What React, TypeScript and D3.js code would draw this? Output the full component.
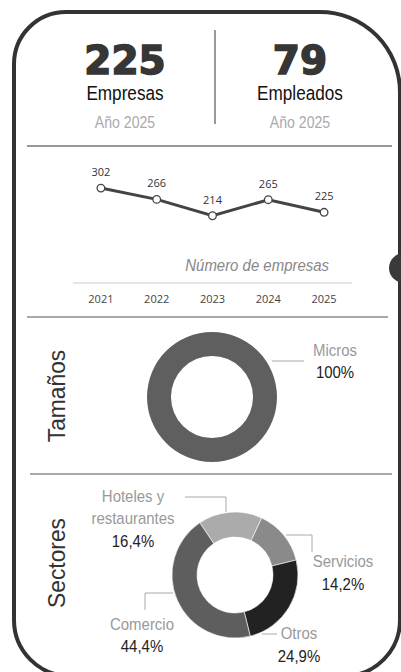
import React from "react";
import * as d3 from "d3";

const years = ["2021", "2022", "2023", "2024", "2025"];
const empresasSerie = [302, 266, 214, 265, 225];

const kpiValues = ["225", "79"];
const kpiLabels = ["Empresas", "Empleados"];
const kpiSub = ["Año 2025", "Año 2025"];

const tamanosCats = ["Micros"];
const tamanosVals = [100];

const sectorCats = ["Hoteles y restaurantes", "Servicios", "Otros", "Comercio"];
const sectorVals = [16.4, 14.2, 24.9, 44.4];
const sectorLabels = ["16,4%", "14,2%", "24,9%", "44,4%"];
const sectorColors = ["#ababab", "#8a8a8a", "#222222", "#5e5e5e"];

const SANS = "Liberation Sans";

function NText(props: {
  x: number;
  y: number;
  size: number;
  fill: string;
  children: React.ReactNode;
  italic?: boolean;
  anchor?: string;
  sx?: number;
  rotate?: number;
}) {
  const { x, y, size, fill, children, italic, anchor = "middle", sx = 0.88, rotate = 0 } = props;
  return (
    <text
      transform={`translate(${x},${y}) rotate(${rotate}) scale(${sx},1)`}
      textAnchor={anchor}
      fontFamily={SANS}
      fontStyle={italic ? "italic" : "normal"}
      fontSize={size}
      fill={fill}
    >
      {children}
    </text>
  );
}

export default function App() {
  const W = 401, H = 672;

  const L = 14, T = 12, R = 400, B = 676;
  const rtl = 52, rtr = 80, rbr = 56, rbl = 56;
  const frame = d3.path();
  frame.moveTo(L + rtl, T);
  frame.lineTo(R - rtr, T);
  frame.arcTo(R, T, R, T + rtr, rtr);
  frame.lineTo(R, B - rbr);
  frame.arcTo(R, B, R - rbr, B, rbr);
  frame.lineTo(L + rbl, B);
  frame.arcTo(L, B, L, B - rbl, rbl);
  frame.lineTo(L, T + rtl);
  frame.arcTo(L, T, L + rtl, T, rtl);
  frame.closePath();

  const x = d3.scaleBand<string>().domain(years).range([73, 352]);
  const y = d3.scaleLinear().domain([0, 350]).range([283, 173]);
  const cx = (yr: string) => (x(yr) as number) + x.bandwidth() / 2;
  const line = d3
    .line<number>()
    .x((_, i) => cx(years[i]))
    .y((v) => y(v));

  const tCx = 212, tCy = 397;
  const tPie = d3.pie<number>().sort(null)(tamanosVals);
  const tArc = d3.arc<d3.PieArcDatum<number>>().innerRadius(41).outerRadius(65);

  const sCx = 235, sCy = 575;
  const startA = (-34 * Math.PI) / 180;
  const sPie = d3
    .pie<number>()
    .sort(null)
    .startAngle(startA)
    .endAngle(startA + 2 * Math.PI)(sectorVals);
  const sArc = d3.arc<d3.PieArcDatum<number>>().innerRadius(38).outerRadius(63);

  const kpiX = [125, 300];

  return (
    <svg
      width={W}
      height={H}
      style={{ position: "absolute", left: 0, top: 0, background: "#fff" }}
    >
      <rect x={0} y={0} width={W} height={H} fill="#fff" />
      <path d={frame.toString()} fill="none" stroke="#333" strokeWidth={4} />
      <circle cx={404} cy={268} r={15} fill="#3a3a3a" />

      {kpiValues.map((v, i) => (
        <g key={i}>
          <text
            x={kpiX[i]}
            y={74}
            textAnchor="middle"
            fontFamily="DejaVu Sans"
            fontWeight={700}
            fontSize={39}
            fill="#363636"
            stroke="#363636"
            strokeWidth={1.6}
          >
            {v}
          </text>
          <NText x={kpiX[i]} y={100} size={19.5} fill="#111">
            {kpiLabels[i]}
          </NText>
          <NText x={kpiX[i]} y={128} size={16} fill="#aaa">
            {kpiSub[i]}
          </NText>
        </g>
      ))}
      <line x1={215} x2={215} y1={30} y2={124} stroke="#999" strokeWidth={2} />
      <line x1={27} x2={392} y1={146} y2={146} stroke="#333" strokeWidth={1.2} />

      <line x1={73} x2={352} y1={283} y2={283} stroke="#dcdcdc" strokeWidth={1.5} />
      <path d={line(empresasSerie) || ""} fill="none" stroke="#444" strokeWidth={3} />
      {empresasSerie.map((v, i) => (
        <g key={i}>
          <circle cx={cx(years[i])} cy={y(v)} r={3.8} fill="#fff" stroke="#444" strokeWidth={1.3} />
          <text
            x={cx(years[i])}
            y={y(v) - 12}
            textAnchor="middle"
            fontFamily="Open Sans"
            fontSize={11}
            fill="#333"
          >
            {v}
          </text>
        </g>
      ))}
      {years.map((yr) => (
        <text
          key={yr}
          x={cx(yr)}
          y={303}
          textAnchor="middle"
          fontFamily="Open Sans"
          fontSize={11}
          fill="#444"
        >
          {yr}
        </text>
      ))}
      <NText x={329} y={271} size={17} fill="#888" italic anchor="end">
        Número de empresas
      </NText>
      <line x1={27} x2={388} y1={317} y2={317} stroke="#555" strokeWidth={1.2} />

      <NText x={65} y={396} size={24} fill="#333" rotate={-90} sx={0.95}>
        Tamaños
      </NText>
      <g transform={`translate(${tCx},${tCy})`}>
        {tPie.map((d, i) => (
          <path key={i} d={tArc(d) || ""} fill="#5f5f5f" />
        ))}
      </g>
      <polyline points="272,361 304,361" fill="none" stroke="#aaa" strokeWidth={1} />
      <NText x={335} y={356} size={17} fill="#999">
        {tamanosCats[0]}
      </NText>
      <NText x={335} y={378} size={17} fill="#222">
        {tamanosVals[0]}%
      </NText>
      <line x1={30} x2={392} y1={474} y2={474} stroke="#555" strokeWidth={1.2} />

      <NText x={65} y={563} size={24} fill="#333" rotate={-90} sx={0.95}>
        Sectores
      </NText>
      <g transform={`translate(${sCx},${sCy})`}>
        {sPie.map((d, i) => (
          <path key={i} d={sArc(d) || ""} fill={sectorColors[i]} stroke="#fff" strokeWidth={0.6} />
        ))}
      </g>
      <polyline points="185,497 226,497 226,512" fill="none" stroke="#aaa" strokeWidth={1} />
      <polyline points="286,535 312,535 312,552" fill="none" stroke="#aaa" strokeWidth={1} />
      <polyline points="173,593 145,593 145,610" fill="none" stroke="#aaa" strokeWidth={1} />
      <polyline points="262,634 277,634" fill="none" stroke="#aaa" strokeWidth={1} />

      <NText x={133} y={502} size={17} fill="#999">Hoteles y</NText>
      <NText x={133} y={524} size={17} fill="#999">restaurantes</NText>
      <NText x={133} y={547} size={17} fill="#222">{sectorLabels[0]}</NText>

      <NText x={343} y={567} size={17} fill="#999">{sectorCats[1]}</NText>
      <NText x={343} y={590} size={17} fill="#222">{sectorLabels[1]}</NText>

      <NText x={299} y={639} size={17} fill="#999">{sectorCats[2]}</NText>
      <NText x={299} y={662} size={17} fill="#222">{sectorLabels[2]}</NText>

      <NText x={142} y={630} size={17} fill="#999">{sectorCats[3]}</NText>
      <NText x={142} y={652} size={17} fill="#222">{sectorLabels[3]}</NText>
    </svg>
  );
}
